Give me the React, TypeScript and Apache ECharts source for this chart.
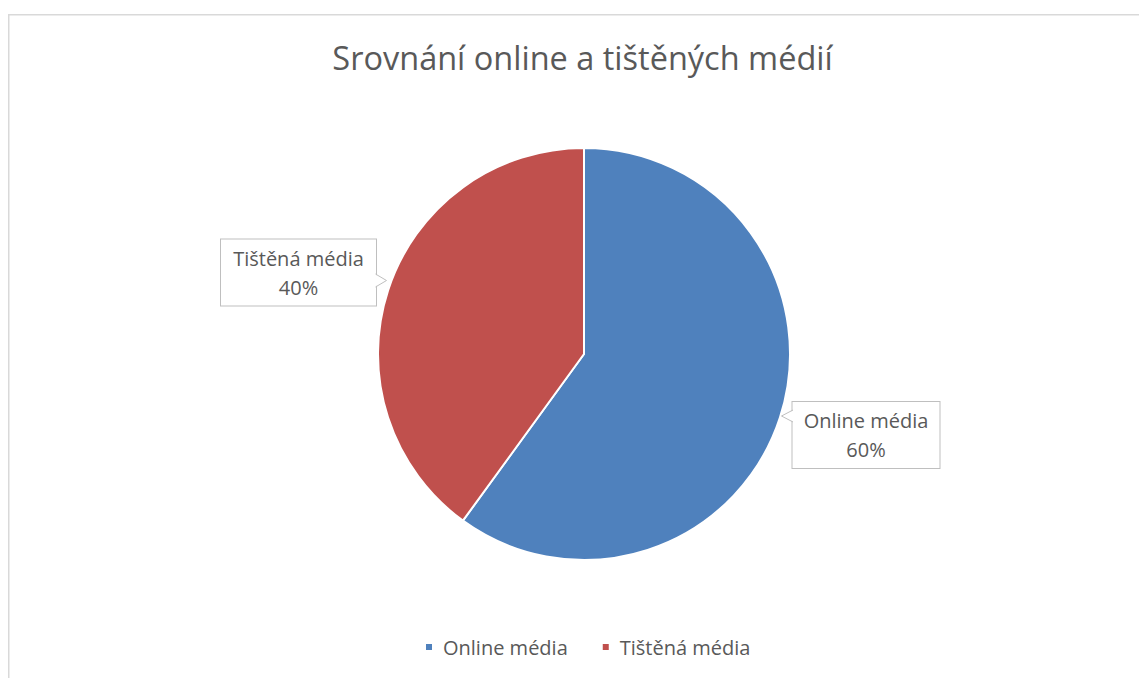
import React, { useEffect, useRef } from "react";
import * as echarts from "echarts";

const titleText = "Srovnání online a tištěných médií";
const categories = ["Online média", "Tištěná média"];
const shares = [60, 40];
const colors = ["#4F81BD", "#C0504D"];

const FONT = "'Open Sans', 'Noto Sans', sans-serif";
const TEXT = "#595959";

// layout (chart-local pixels)
const CENTER: [number, number] = [576, 346];
const RADIUS = 206;
const labelCenters: [number, number][] = [
  [858, 427],
  [290.5, 264.5],
];
const labelWidths = [127, 135];
const BOX_H = 66;

export default function App() {
  const ref = useRef<HTMLDivElement>(null);
  useEffect(() => {
    if (!ref.current) return;
    const chart = echarts.init(ref.current, undefined, { renderer: "svg" });

    // callout pointers derived from label box positions
    const onlineLeft = labelCenters[0][0] - (labelWidths[0] + 20) / 2;
    const onlineY = labelCenters[0][1] - BOX_H / 2 + 14;
    const printRight = labelCenters[1][0] + (labelWidths[1] + 20) / 2;
    const printY = labelCenters[1][1] - BOX_H / 2 + 41;

    const ptrOnline = [
      [onlineLeft + 0.5, onlineY - 6],
      [onlineLeft - 11, onlineY],
      [onlineLeft + 0.5, onlineY + 6],
    ];
    const ptrPrint = [
      [printRight - 0.5, printY - 6.5],
      [printRight + 10.5, printY],
      [printRight - 0.5, printY + 6.5],
    ];

    chart.setOption({
      animation: false,
      backgroundColor: "#ffffff",
      title: {
        text: titleText,
        left: 574.5,
        textAlign: "center",
        top: 33,
        padding: 0,
        textStyle: {
          fontFamily: FONT,
          fontSize: 32.5,
          fontWeight: "normal",
          color: TEXT,
        },
      },
      legend: {
        data: categories,
        left: 416,
        top: 629,
        padding: 0,
        icon: "rect",
        itemWidth: 8,
        itemHeight: 8,
        itemGap: 33,
        textStyle: {
          fontFamily: FONT,
          fontSize: 20,
          color: TEXT,
          padding: [0, 0, 0, 5],
        },
      },
      graphic: [
        {
          type: "rect",
          shape: { x: 0.75, y: 6.8, width: 1300, height: 900 },
          style: { fill: "none", stroke: "#d9d9d9", lineWidth: 1.5 },
          silent: true,
          z: -10,
        },
        {
          type: "polygon",
          shape: { points: ptrOnline.map((p, i) => (i === 1 ? p : [p[0] + 1, p[1]])) },
          style: { fill: "#ffffff" },
          z: 100,
        },
        {
          type: "polyline",
          shape: { points: ptrOnline },
          style: { stroke: "#bfbfbf", lineWidth: 1, fill: "none" },
          z: 101,
        },
        {
          type: "polygon",
          shape: { points: ptrPrint.map((p, i) => (i === 1 ? p : [p[0] - 1, p[1]])) },
          style: { fill: "#ffffff" },
          z: 100,
        },
        {
          type: "polyline",
          shape: { points: ptrPrint },
          style: { stroke: "#bfbfbf", lineWidth: 1, fill: "none" },
          z: 101,
        },
      ],
      series: [
        {
          type: "pie",
          center: CENTER,
          radius: RADIUS,
          startAngle: 90,
          clockwise: true,
          itemStyle: { borderColor: "#ffffff", borderWidth: 2 },
          emphasis: { disabled: true },
          labelLine: { show: false },
          label: {
            show: true,
            formatter: "{b}\n{d}%",
            fontFamily: FONT,
            fontSize: 20,
            lineHeight: 29,
            color: TEXT,
            align: "center",
            backgroundColor: "#ffffff",
            borderColor: "#bfbfbf",
            borderWidth: 1,
            padding: [4, 10],
          },
          labelLayout: (params: any) => ({
            x: labelCenters[params.dataIndex][0],
            y: labelCenters[params.dataIndex][1],
            align: "center",
            verticalAlign: "middle",
          }),
          data: categories.map((name, i) => ({
            name,
            value: shares[i],
            itemStyle: { color: colors[i] },
            label: { width: labelWidths[i] },
          })),
        },
      ],
    });
    return () => chart.dispose();
  }, []);
  return <div ref={ref} style={{ width: 1139, height: 670 }} />;
}
